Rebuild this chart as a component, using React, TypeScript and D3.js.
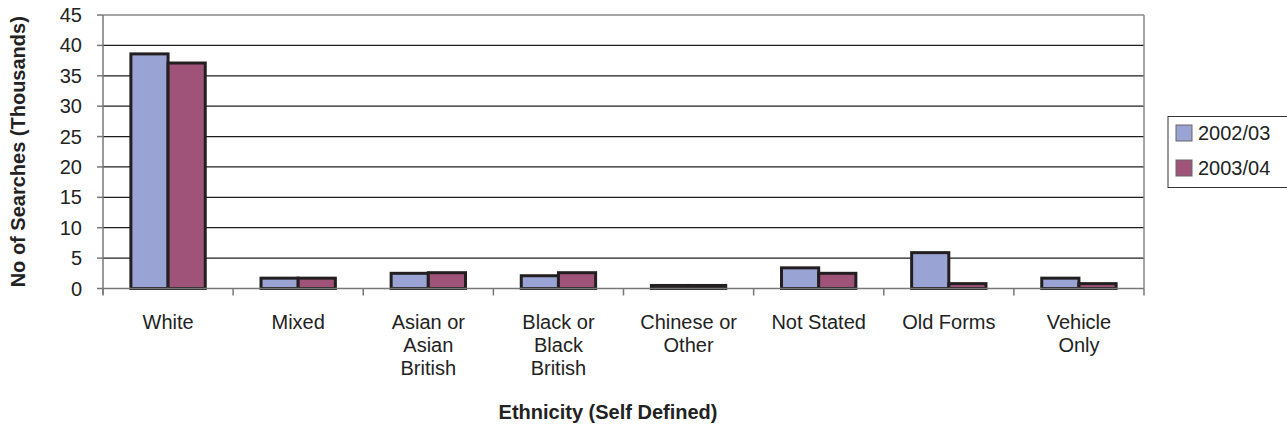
import React from "react";
import * as d3 from "d3";

const categories = [
  "White",
  "Mixed",
  "Asian or Asian British",
  "Black or Black British",
  "Chinese or Other",
  "Not Stated",
  "Old Forms",
  "Vehicle Only",
];
const seriesNames = ["2002/03", "2003/04"];
const values2002 = [38.6, 1.7, 2.5, 2.1, 0.5, 3.4, 5.9, 1.7];
const values2003 = [37.1, 1.7, 2.6, 2.6, 0.5, 2.5, 0.8, 0.8];
const yTicks = [0, 5, 10, 15, 20, 25, 30, 35, 40, 45];
const seriesColors = ["#9AA4D4", "#A05378"];

const W = 1287;
const H = 433;
const FONT = "'Liberation Sans', Arial, sans-serif";
const FS = 20;

const plot = { left: 103, right: 1144, top: 15, bottom: 288.5 };

let ctx: CanvasRenderingContext2D | null = null;
function measure(text: string): number {
  if (!ctx) ctx = document.createElement("canvas").getContext("2d");
  if (!ctx) return text.length * FS * 0.5;
  ctx.font = `${FS}px ${FONT}`;
  return ctx.measureText(text).width;
}

function wrap(text: string, maxWidth: number): string[] {
  const words = text.split(" ");
  const lines: string[] = [];
  let cur = "";
  for (const w of words) {
    const next = cur ? cur + " " + w : w;
    if (cur && measure(next) > maxWidth) {
      lines.push(cur);
      cur = w;
    } else cur = next;
  }
  if (cur) lines.push(cur);
  return lines;
}

export default function App() {
  const x0 = d3.scaleBand<string>().domain(categories).range([plot.left, plot.right]).padding(0);
  const bw = x0.bandwidth();
  const gap = (bw / 3.5) * 1.5;
  const x1 = d3
    .scaleBand<string>()
    .domain(seriesNames)
    .range([gap / 2, bw - gap / 2])
    .padding(0);
  const y = d3.scaleLinear().domain([0, 45]).range([plot.bottom, plot.top]);

  const data = categories.map((c, i) => ({ c, vals: [values2002[i], values2003[i]] }));
  const catTicks = [...categories.map((c) => x0(c)!), plot.right];

  return (
    <svg width={W} height={H} style={{ position: "absolute", left: 0, top: 0 }} fontFamily={FONT}>
      <rect width={W} height={H} fill="#fff" />
      {/* gridlines */}
      {yTicks.filter((t) => t > 0 && t < 45).map((t) => (
        <line key={t} x1={plot.left} x2={plot.right} y1={y(t)} y2={y(t)} stroke="#1e1e1e" strokeWidth={1.2} />
      ))}
      {/* plot border */}
      <line x1={plot.left} x2={plot.right} y1={y(45)} y2={y(45)} stroke="#8a8a8a" strokeWidth={1.5} />
      <line x1={plot.right} x2={plot.right} y1={y(45)} y2={y(0)} stroke="#8a8a8a" strokeWidth={1.5} />

      {/* bars */}
      {data.map((d) =>
        d.vals.map((v, si) => (
          <rect
            key={d.c + si}
            x={x0(d.c)! + x1(seriesNames[si])!}
            y={y(v)}
            width={x1.bandwidth()}
            height={y(0) - y(v)}
            fill={seriesColors[si]}
            stroke="#231f20"
            strokeWidth={3}
          />
        ))
      )}

      {/* axes */}
      <line x1={plot.left} x2={plot.left} y1={y(45)} y2={y(0) + 6} stroke="#777" strokeWidth={1.5} />
      <line x1={plot.left} x2={plot.right} y1={y(0)} y2={y(0)} stroke="#777" strokeWidth={1.5} />
      {yTicks.map((t) => (
        <g key={t}>
          <line x1={plot.left - 6} x2={plot.left} y1={y(t)} y2={y(t)} stroke="#777" strokeWidth={1.5} />
          <text x={plot.left - 21} y={y(t)} dy="0.35em" textAnchor="end" fontSize={FS} fill="#222">
            {t}
          </text>
        </g>
      ))}
      {catTicks.map((cx, i) => (
        <line key={i} x1={cx} x2={cx} y1={y(0)} y2={y(0) + 7} stroke="#777" strokeWidth={1.5} />
      ))}
      {categories.map((c) => {
        const lines = wrap(c, 104);
        const cx = x0(c)! + bw / 2;
        return (
          <text key={c} x={cx} y={329} textAnchor="middle" fontSize={FS} fill="#222">
            {lines.map((l, i) => (
              <tspan key={i} x={cx} dy={i === 0 ? 0 : 23}>
                {l}
              </tspan>
            ))}
          </text>
        );
      })}

      {/* axis titles */}
      <text x={608} y={419} textAnchor="middle" fontSize={FS} fontWeight="bold" fill="#222">
        Ethnicity (Self Defined)
      </text>
      <text
        transform={`translate(25, ${(plot.top + plot.bottom) / 2}) rotate(-90)`}
        textAnchor="middle"
        fontSize={FS}
        fontWeight="bold"
        fill="#222"
      >
        No of Searches (Thousands)
      </text>

      {/* legend */}
      <rect x={1168} y={116.5} width={125} height={71} fill="#fff" stroke="#333" strokeWidth={1} />
      {seriesNames.map((s, i) => (
        <g key={s} transform={`translate(1176, ${125 + i * 35})`}>
          <rect x={0} y={0} width={16} height={16} fill={seriesColors[i]} stroke="#666" strokeWidth={1} />
          <text x={22} y={8} dy="0.35em" fontSize={FS} fill="#222">
            {s}
          </text>
        </g>
      ))}
    </svg>
  );
}
